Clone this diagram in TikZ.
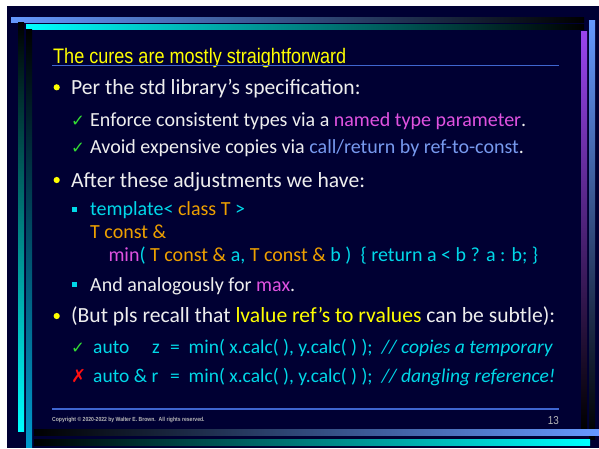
\documentclass[tikz,border=0pt]{standalone}
\usepackage{fontspec}
\setmainfont{Carlito}
\newfontfamily\bodyfont{Carlito}
\newfontfamily\titlefont[FakeStretch=0.86]{Liberation Sans}
\newfontfamily\symfont{DejaVu Sans}
\definecolor{bg}{HTML}{000033}
\definecolor{fg}{HTML}{EEEEEE}
\definecolor{ttl}{HTML}{FFFF00}
\definecolor{mag}{HTML}{E052E0}
\definecolor{lblue}{HTML}{7799EE}
\definecolor{cy}{HTML}{00D8E8}
\definecolor{org}{HTML}{EEA000}
\definecolor{grn}{HTML}{33DD33}
\definecolor{crossred}{HTML}{FF1010}
\definecolor{barblue}{HTML}{6699FF}
\definecolor{barcyan}{HTML}{00FFFF}
\definecolor{barteal}{HTML}{0099CC}
\definecolor{barpurp}{HTML}{9944EE}
\definecolor{rulecol}{HTML}{3F66D0}
\definecolor{footgray}{HTML}{B8B8B8}
\tikzset{
  mainline/.style={inner sep=0pt, anchor=base west, text=fg, font=\bodyfont\fontsize{21.6}{26}\selectfont},
  subline/.style={inner sep=0pt, anchor=base west, text=fg, font=\bodyfont\fontsize{20}{24}\selectfont},
  codeline/.style={inner sep=0pt, anchor=base west, text=cy, font=\bodyfont\fontsize{20}{24}\selectfont},
  callline/.style={codeline, font=\bodyfont\fontsize{19.5}{24}\selectfont},
  titletext/.style={inner sep=0pt, anchor=base west, text=ttl, font=\titlefont\fontsize{21}{25}\selectfont},
  chk/.style={inner sep=0pt, anchor=base west, text=grn, font=\symfont\fontsize{16.5}{18}\selectfont},
  crs/.style={inner sep=0pt, anchor=base west, text=crossred, font=\symfont\fontsize{18}{20}\selectfont},
  dotbullet/.style={circle, fill=ttl, inner sep=0pt, minimum size=6.2pt},
  sqbullet/.style={rectangle, fill=cy, inner sep=0pt, minimum size=5pt},
  rulerline/.style={draw=rulecol, line width=1.3pt},
  foottext/.style={inner sep=0pt, anchor=base west, text=footgray, font=\titlefont\bfseries\fontsize{5.9}{7}\selectfont},
  pagenum/.style={inner sep=0pt, anchor=base east, text=footgray, font=\titlefont\fontsize{11.5}{13}\selectfont},
}
\begin{document}
\begin{tikzpicture}[x=1pt,y=-1pt]
\useasboundingbox (0,0) rectangle (599,448);
\fill[white] (0,0) rectangle (599,448);
\fill[bg] (7,6) rectangle (599,448);
% decorative bars
\shade[left color=barblue, middle color=barblue!70!black, right color=black] (11,17) rectangle (584,22);
\shade[left color=barcyan, middle color=barcyan!65!black, right color=black] (26,24) rectangle (584,29);
\shade[top color=black, bottom color=barcyan] (18,22) rectangle (24,431);
\shade[top color=black, bottom color=barteal] (26,29) rectangle (32,447);
\shade[top color=barpurp, bottom color=black] (581,31) rectangle (587,429);
\shade[top color=barblue, bottom color=black] (589,20) rectangle (595,439);
\shade[left color=black, right color=barblue] (34,429) rectangle (599,435);
\shade[left color=black, right color=barcyan] (34,439) rectangle (590,445);
% title
\node[titletext] (title) at (53,63) {The cures are mostly straightforward};
\draw[rulerline] (52,65.5) -- (559,65.5);
% body
\node[dotbullet] (b1) at (56.7,87.3) {};
\node[mainline] (l1) at (71,94) {Per the std library’s specification:};
\node[chk] (c2) at (71,126) {✓};
\node[subline] (l2) at (90,126) {Enforce consistent types via a \textcolor{mag}{named type parameter}.};
\node[chk] (c3) at (71,153.3) {✓};
\node[subline] (l3) at (90,153.3) {Avoid expensive copies via \textcolor{lblue}{call/return by ref-to-const}.};
\node[dotbullet] (b2) at (56.7,180) {};
\node[mainline] (l4) at (71,187.3) {After these adjustments we have:};
\node[sqbullet] (s1) at (74.8,209.8) {};
\node[codeline] (l5) at (90,215) {template< \textcolor{org}{class T} >};
\node[codeline, text=org] (l6) at (90,238.3) {T const \&};
\node[codeline] (l7) at (108.3,261.7) {\textcolor{mag}{min}( \textcolor{org}{T const \&} a, \textcolor{org}{T const \&} b )~~\{ return a < b ? a : b; \}};
\node[sqbullet] (s2) at (74.8,284.2) {};
\node[subline] (l8) at (90,291) {And analogously for \textcolor{mag}{max}.};
\node[dotbullet] (b3) at (56.7,316) {};
\node[mainline] (l9) at (71,322.3) {(But pls recall that \textcolor{ttl}{lvalue ref’s to rvalues} can be subtle):};
\node[chk] (c10) at (71,353.3) {✓};
\node[callline] (l10a) at (93,353.3) {auto};
\node[callline] (l10b) at (152,353.3) {z};
\node[callline] (l10c) at (170,353.3) {=~~min( x.calc( ), y.calc( ) );~~\textit{// copies a temporary}};
\node[crs] (x11) at (71,382.3) {✗};
\node[callline] (l11a) at (93,382.3) {auto \& r};
\node[callline] (l11c) at (170,382.3) {=~~min( x.calc( ), y.calc( ) );~~\textit{// dangling reference!}};
% footer
\draw[rulerline] (52,409) -- (559,409);
\node[foottext] (copy) at (52,421.7) {Copyright © 2020-2022 by Walter E. Brown.\ \ All rights reserved.};
\node[pagenum] (pg) at (559,424.3) {13};
\end{tikzpicture}
\end{document}
